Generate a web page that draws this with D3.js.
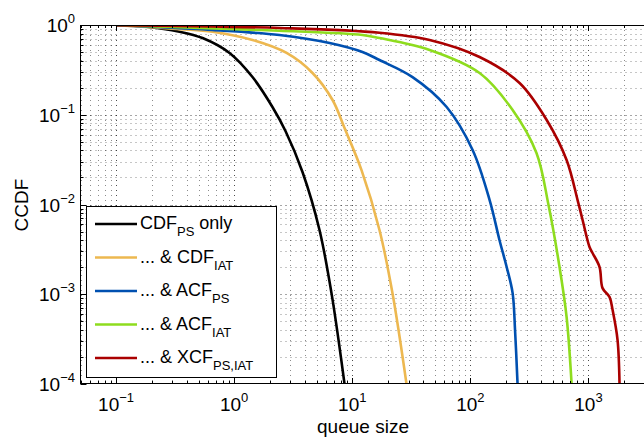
<!DOCTYPE html>
<html>
<head>
<meta charset="utf-8">
<script src="https://cdn.jsdelivr.net/npm/d3@7"></script>
<style>
  body { margin: 0; background: #fff; }
  svg { display: block; }
  text { font-family: "Liberation Sans", Arial, Helvetica, sans-serif; fill: #000; }
</style>
</head>
<body>
<div id="chart"></div>
<script>
// queue size vs CCDF
const cdfPsOnly = [[0.1, 0.995], [0.18, 0.957], [0.345, 0.842], [0.54, 0.716], [0.914, 0.488], [1.43, 0.263],
  [2.11, 0.122], [2.72, 0.0659], [3.79, 0.023], [5.28, 0.0052], [6.67, 0.00103], [7.65, 0.00031], [8.6, 0.0001]];
const cdfIat = [[0.1, 0.998], [0.345, 0.9], [0.656, 0.842], [1.43, 0.681], [2.78, 0.488], [4.61, 0.292], [6.81, 0.146],
  [8.6, 0.0711], [12, 0.024], [17, 0.0052], [21.9, 0.00103], [28.8, 0.0001]];
const acfPs = [[0.1, 0.998], [0.345, 0.92], [0.656, 0.88], [2.42, 0.774], [6.43, 0.63], [12.2, 0.5], [17, 0.407],
  [32.4, 0.263], [63, 0.122], [104.5, 0.0405], [145.6, 0.0112], [176.6, 0.004], [203, 0.00201], [228, 0.00103],
  [239, 0.0004], [251, 0.0001]];
const acfIat = [[0.1, 0.999], [0.345, 0.943], [2.42, 0.864], [12.2, 0.774], [17, 0.716], [45.2, 0.527], [119.7, 0.292],
  [228, 0.113], [363, 0.0375], [459, 0.00986], [569, 0.00201], [653, 0.000558], [720, 0.0001]];
const xcfPsIat = [[0.1, 0.997], [2.42, 0.926], [17, 0.82], [45.2, 0.681], [119.7, 0.44], [261, 0.226], [443, 0.0874],
  [653, 0.0313], [809, 0.0112], [892, 0.00671], [1021, 0.00336], [1083, 0.00288], [1242, 0.00201], [1316, 0.00117],
  [1510, 0.00093], [1600, 0.00067], [1763, 0.00031], [1833, 0.0001]];

const seriesNames = [["CDF", "PS", " only"], ["... & CDF", "IAT", ""], ["... & ACF", "PS", ""],
  ["... & ACF", "IAT", ""], ["... & XCF", "PS,IAT", ""]];
const seriesData = [cdfPsOnly, cdfIat, acfPs, acfIat, xcfPsIat];
const colors = ["#000000", "#EDB850", "#0050B0", "#8EDC1E", "#AA0000"];

const xMajor = [0.1, 1, 10, 100, 1000];
const yMajor = [1e-4, 1e-3, 1e-2, 1e-1, 1];
const xExp = ["\u22121", "0", "1", "2", "3"];
const yExp = ["\u22124", "\u22123", "\u22122", "\u22121", "0"];

width = 644;
height = 437;
plot = {left: 80.5, top: 25, bottom: 384};

x = d3.scaleLog().domain([0.05, 5000]).range([plot.left, plot.left + 5 * 118.1]);
y = d3.scaleLog().domain([1e-4, 1]).range([plot.bottom, plot.top]);

// minor ticks: 2..9 of every decade
function minors(lo, hi) {
  const out = [];
  for (let e = lo; e < hi; e++)
    for (let k = 2; k <= 9; k++) out.push(k * Math.pow(10, e));
  return out;
}
xMinor = minors(-2, 4).filter(v => v >= 0.05 && v <= 5000);
yMinor = minors(-4, 0);

svg = d3.select("#chart").append("svg")
  .attr("width", width).attr("height", height);

svg.append("defs").append("clipPath").attr("id", "clip")
  .append("rect")
  .attr("x", plot.left).attr("y", plot.top)
  .attr("width", width - plot.left).attr("height", plot.bottom - plot.top);

// dotted grid (major + minor)
grid = svg.append("g").attr("clip-path", "url(#clip)")
  .attr("stroke", "#000").attr("stroke-dasharray", "1,4").attr("stroke-width", 1);
grid.selectAll(".gx").data(xMajor.concat(xMinor)).join("line")
  .attr("x1", d => Math.round(x(d)) + 0.5).attr("x2", d => Math.round(x(d)) + 0.5)
  .attr("y1", plot.top).attr("y2", plot.bottom)
  .attr("stroke-opacity", d => xMajor.includes(d) ? 0.7 : 0.45);
grid.selectAll(".gy").data(yMajor.concat(yMinor)).join("line")
  .attr("y1", d => Math.round(y(d)) + 0.5).attr("y2", d => Math.round(y(d)) + 0.5)
  .attr("x1", plot.left).attr("x2", width)
  .attr("stroke-opacity", d => yMajor.includes(d) ? 0.7 : 0.45);

// curves
line = d3.line().x(d => x(d[0])).y(d => y(d[1])).curve(d3.curveCatmullRom.alpha(0.5));
svg.append("g").attr("clip-path", "url(#clip)")
  .selectAll("path").data(seriesData).join("path")
  .attr("fill", "none")
  .attr("stroke", (d, i) => colors[i])
  .attr("stroke-width", 2.6)
  .attr("stroke-linejoin", "round")
  .attr("d", line);

// axes box + inward ticks
ax = svg.append("g").attr("stroke", "#000").attr("stroke-width", 1);
ax.append("line").attr("x1", plot.left).attr("x2", width).attr("y1", plot.top + 0.5).attr("y2", plot.top + 0.5);
ax.append("line").attr("x1", plot.left).attr("x2", width).attr("y1", plot.bottom - 0.5).attr("y2", plot.bottom - 0.5);
ax.append("line").attr("x1", plot.left).attr("x2", plot.left).attr("y1", plot.top).attr("y2", plot.bottom);

xTicks = xMajor.map(v => [v, 6]).concat(xMinor.map(v => [v, 3]));
ax.selectAll(".tb").data(xTicks).join("line")
  .attr("x1", d => Math.round(x(d[0])) + 0.5).attr("x2", d => Math.round(x(d[0])) + 0.5)
  .attr("y1", plot.bottom).attr("y2", d => plot.bottom - d[1]);
ax.selectAll(".tt").data(xTicks).join("line")
  .attr("x1", d => Math.round(x(d[0])) + 0.5).attr("x2", d => Math.round(x(d[0])) + 0.5)
  .attr("y1", plot.top).attr("y2", d => plot.top + d[1]);
yTicks = yMajor.map(v => [v, 6]).concat(yMinor.map(v => [v, 3]));
ax.selectAll(".tl").data(yTicks).join("line")
  .attr("y1", d => Math.round(y(d[0])) + 0.5).attr("y2", d => Math.round(y(d[0])) + 0.5)
  .attr("x1", plot.left).attr("x2", d => plot.left + d[1]);

// tick labels  10^n
xl = svg.append("g").selectAll("text").data(xMajor).join("text")
  .attr("x", d => x(d)).attr("y", 411)
  .attr("text-anchor", "middle").attr("font-size", 19);
xl.append("tspan").text("10");
xl.append("tspan").attr("dy", -9).attr("font-size", 13).text((d, i) => xExp[i]);

yl = svg.append("g").selectAll("text").data(yMajor).join("text")
  .attr("x", 75).attr("y", d => y(d) + 7)
  .attr("text-anchor", "end").attr("font-size", 19);
yl.append("tspan").text("10");
yl.append("tspan").attr("dy", -9).attr("font-size", 13).text((d, i) => yExp[i]);

svg.append("text").attr("x", 363).attr("y", 433)
  .attr("text-anchor", "middle").attr("font-size", 19).text("queue size");
svg.append("text").attr("transform", "translate(28,205) rotate(-90)")
  .attr("text-anchor", "middle").attr("font-size", 19).text("CCDF");

// legend
lg = svg.append("g");
lg.append("rect").attr("x", 86.5).attr("y", 206.5).attr("width", 190).attr("height", 171)
  .attr("fill", "#fff").attr("stroke", "#000");
row = lg.selectAll("g").data(seriesNames).join("g")
  .attr("transform", (d, i) => `translate(0,${224 + i * 33.5})`);
row.append("line").attr("x1", 95).attr("x2", 137).attr("y1", 0).attr("y2", 0)
  .attr("stroke", (d, i) => colors[i]).attr("stroke-width", 2.6);
lt = row.append("text").attr("x", 140).attr("y", 5).attr("font-size", 18);
lt.append("tspan").text(d => d[0]);
lt.append("tspan").attr("dy", 7).attr("font-size", 13).text(d => d[1]);
lt.append("tspan").attr("dy", -7).text(d => d[2] ? "\u00a0" + d[2].trim() : "");
</script>
</body>
</html>
